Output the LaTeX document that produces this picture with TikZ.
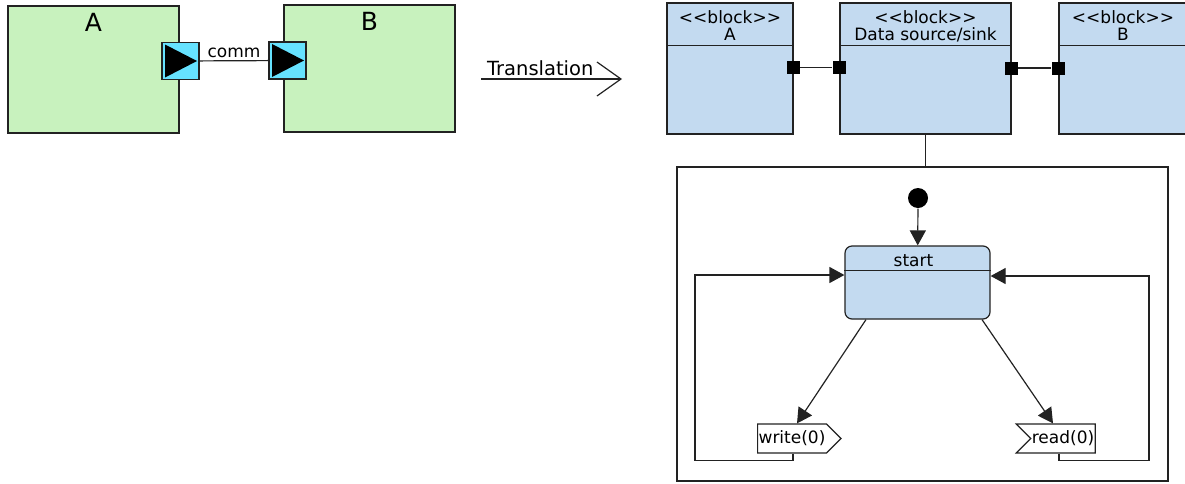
\documentclass[tikz,border=0pt]{standalone}
\usepackage{fontspec}
\setmainfont{DejaVu Sans}
\usetikzlibrary{positioning,arrows.meta,shapes.symbols}

\definecolor{partgreen}{HTML}{C8F2BE}
\definecolor{blockblue}{HTML}{C3DAF0}
\definecolor{portcyan}{HTML}{66E2FF}
\definecolor{edge}{HTML}{222222}

% stereotype text, kerns keep << and >> from turning into guillemets
\newcommand{\stereo}{<\kern0pt<block>\kern0pt>}

\begin{document}
\begin{tikzpicture}[x=1pt, y=-1pt, line width=1.2pt, draw=edge,
    txt/.style={font=\fontsize{17}{20}\selectfont},
    part/.style={draw, fill=partgreen, minimum width=171pt, minimum height=127pt, inner sep=0pt},
    partname/.style={font=\fontsize{25}{28}\selectfont, inner sep=0pt},
    flowport/.style={draw, fill=portcyan, minimum size=37pt, inner sep=0pt,
        path picture={\fill[black] ([shift={(3pt,-2pt)}]path picture bounding box.north west)
            -- ([shift={(3pt,2pt)}]path picture bounding box.south west)
            -- ([xshift=-2pt]path picture bounding box.east) -- cycle;}},
    block/.style={draw, fill=blockblue, minimum width=#1, minimum height=131pt, inner sep=0pt},
    blockhead/.style={align=center, inner sep=0pt, font=\fontsize{17}{16.5}\selectfont},
    sqport/.style={fill=black, minimum size=13pt, inner sep=0pt},
    state/.style={draw, fill=blockblue, rounded corners=7pt, minimum width=145pt, minimum height=73pt},
    sigout/.style={txt, signal, signal to=east, signal from=nowhere, draw, fill=white,
        minimum height=29pt, inner xsep=1pt, inner ysep=0pt},
    sigin/.style={txt, signal, signal to=nowhere, signal from=west, draw, fill=white,
        minimum height=29pt, inner xsep=1pt, inner ysep=0pt},
    arr/.style={-{Triangle[length=15pt, width=16pt]}}]

    \useasboundingbox (0,0) rectangle (1185,483);

    % Parts A and B with flow ports
    \node[part] (A) at (93.5,69.5) {};
    \node[part] (B) at (369.5,68.5) {};
    \node[partname, below=7pt of A.north] {A};
    \node[partname, below=7pt of B.north] {B};
    \node[flowport] (pA) at (180.5,61) {};
    \node[flowport] (pB) at (287.5,60.5) {};
    \draw (pA) -- node[txt, above=-1pt] {comm} (pB);

    % Translation arrow
    \coordinate (trFrom) at (481,79);
    \coordinate (trTo) at (622,79);
    \draw[-{Straight Barb[length=24pt, width=34pt]}] (trFrom)
        -- node[pos=0.42, above=3pt, inner sep=0pt, font=\fontsize{19.5}{22}\selectfont] {Translation} (trTo);

    % Blocks
    \node[block=126pt] (blkA) at (730,68.5) {};
    \node[block=171pt] (blkD) at (925.5,68.5) {};
    \node[block=128pt] (blkB) at (1123,68.5) {};
    \foreach \b in {blkA,blkD,blkB}
        \draw ([yshift=-43pt]\b.north west) -- ([yshift=-43pt]\b.north east);
    \node[blockhead, below=8pt of blkA.north] {\stereo\\A};
    \node[blockhead, below=8pt of blkD.north] {\stereo\\Data source/sink};
    \node[blockhead, below=8pt of blkB.north] {\stereo\\B};

    % Ports between blocks
    \node[sqport] (qA) at (793,67.5) {};
    \node[sqport] (qD1) at (839,67.5) {};
    \node[sqport] (qD2) at (1011,68) {};
    \node[sqport] (qB) at (1058,68) {};
    \draw (qA) -- (qD1);
    \draw (qD2) -- (qB);

    % State machine of the data block
    \node[draw, minimum width=491pt, minimum height=314pt] (sm) at (922.5,324) {};
    \draw (blkD.south) -- (blkD.south |- sm.north);

    \node[circle, fill=black, minimum size=20pt, inner sep=0pt] (init) at (918,198) {};
    \node[state] (st) at (917.5,282.5) {};
    \draw ([yshift=-25pt]st.north west) -- ([yshift=-25pt]st.north east);
    \node[txt, anchor=base] at ([shift={(-4pt,-21pt)}]st.north) {start};
    \draw[arr] (init) -- (st);

    \node[sigout] (wr) at (792,438.5) {write(0)};
    \node[sigin] (rd) at (1063,438.5) {read(0)};
    \draw[arr] ([xshift=-51.5pt]st.south) -- ([xshift=5pt]wr.north);
    \draw[arr] ([xshift=64.5pt]st.south) -- ([xshift=-10pt]rd.north);

    % back to start
    \draw[arr] ([xshift=1pt]wr.south) |- ++(-98,7) |- ([yshift=7.5pt]st.west);
    \draw[arr] ([xshift=-4pt]rd.south) |- ++(90,7) |- ([yshift=6.5pt]st.east);
\end{tikzpicture}
\end{document}
